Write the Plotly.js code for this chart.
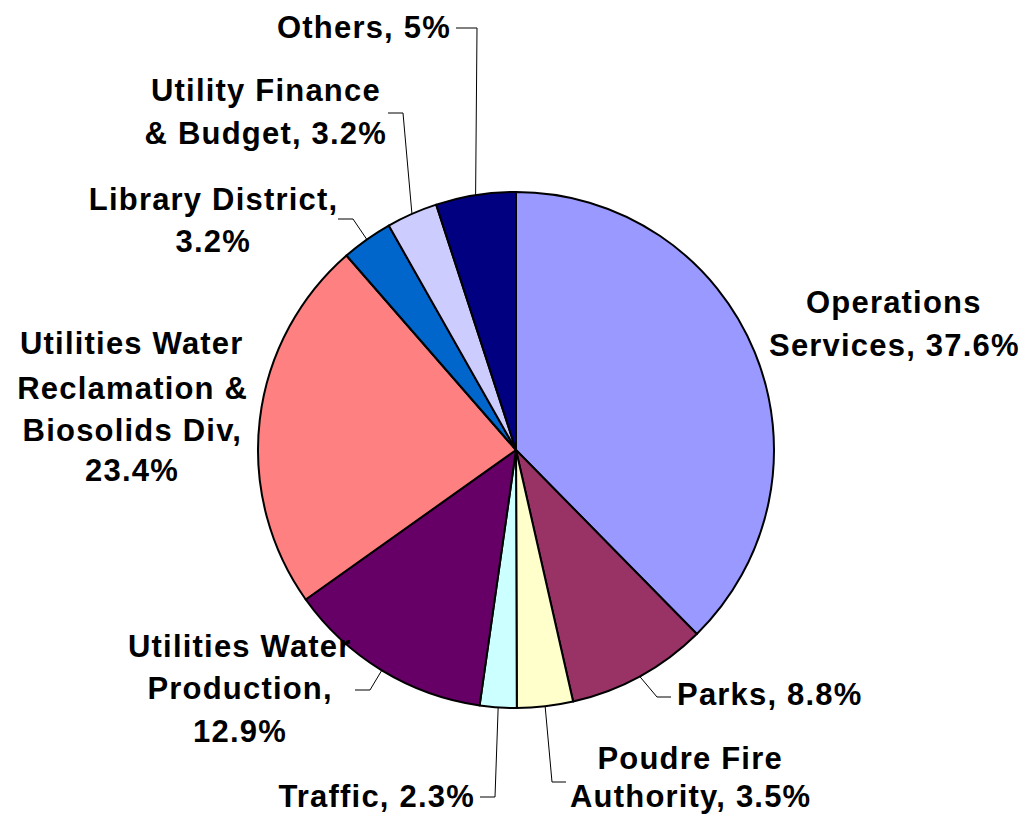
<!DOCTYPE html>
<html>
<head>
<meta charset="utf-8">
<script src="https://cdn.plot.ly/plotly-3.0.1.min.js"></script>
<style>
html,body{margin:0;padding:0;background:#fff;}
#chart{width:1024px;height:820px;}
</style>
</head>
<body>
<div id="chart"></div>
<script>
// ---- data ----
const categories = ['Operations Services', 'Parks', 'Poudre Fire Authority', 'Traffic',
  'Utilities Water Production', 'Utilities Water Reclamation & Biosolids Div',
  'Library District', 'Utility Finance & Budget', 'Others'];
const values = [37.6, 8.8, 3.5, 2.3, 12.9, 23.4, 3.2, 3.2, 5];
const colors = ['#9999FF', '#993366', '#FFFFCC', '#CCFFFF', '#660066', '#FF8080', '#0066CC', '#CCCCFF', '#000080'];
// label text lines ({v} = value with %)
const labelLines = [
  ['Operations', 'Services, {v}'],
  ['Parks, {v}'],
  ['Poudre Fire', 'Authority, {v}'],
  ['Traffic, {v}'],
  ['Utilities Water', 'Production,', '{v}'],
  ['Utilities Water', 'Reclamation &', 'Biosolids Div,', '{v}'],
  ['Library District,', '{v}'],
  ['Utility Finance', '& Budget, {v}'],
  ['Others, {v}']
];

// ---- layout config (pixels) ----
const W = 1024, H = 820;
const pie = {cx: 516, cy: 450, r: 258};
// label placement: x, align, line y positions; leader: start point + elbow dx
const labelPlace = [
  {x: 894, align: 'center', ys: [302, 346]},
  {x: 675, align: 'left', ys: [694], leader: {sx: 671, sy: 697, dx: -14}},
  {x: 690, align: 'center', ys: [758, 796], leader: {sx: 566, sy: 782, dx: -14}},
  {x: 477, align: 'right', ys: [796], leader: {sx: 480, sy: 797, dx: 15}},
  {x: 240, align: 'center', ys: [646, 688, 731], leader: {sx: 355, sy: 690, dx: 15}},
  {x: 132, align: 'center', ys: [344, 388, 430, 471]},
  {x: 213, align: 'center', ys: [199, 241], leader: {sx: 338, sy: 219, dx: 15}},
  {x: 266, align: 'center', ys: [91, 133], leader: {sx: 388, sy: 113, dx: 15}},
  {x: 453, align: 'right', ys: [27], leader: {sx: 456, sy: 28, dx: 21}}
];

const px = x => x / W;
const py = y => 1 - y / H;

const total = values.reduce((a, b) => a + b, 0);
const annotations = [];
const shapes = [];
let cum = 0;
values.forEach((v, i) => {
  const mid = (cum + v / 2) / total * 2 * Math.PI;
  cum += v;
  const ex = pie.cx + pie.r * Math.sin(mid);
  const ey = pie.cy - pie.r * Math.cos(mid);
  const lp = labelPlace[i];
  labelLines[i].forEach((t, k) => {
    annotations.push({
      xref: 'paper', yref: 'paper',
      x: px(lp.x), y: py(lp.ys[k]),
      xanchor: lp.align, yanchor: 'middle', align: lp.align,
      text: t.replace('{v}', v + '%'),
      showarrow: false,
      font: {family: 'Liberation Sans, Arial, sans-serif', size: 31, color: '#000', weight: 'bold'}
    });
  });
  if (lp.leader) {
    const L = lp.leader;
    shapes.push({
      type: 'path', xref: 'paper', yref: 'paper',
      path: 'M ' + px(L.sx) + ' ' + py(L.sy) + ' L ' + px(L.sx + L.dx) + ' ' + py(L.sy) +
            ' L ' + px(ex) + ' ' + py(ey),
      line: {color: '#000', width: 1}
    });
  }
});

const trace = {
  type: 'pie',
  labels: categories,
  values: values,
  sort: false,
  direction: 'clockwise',
  rotation: 0,
  textinfo: 'none',
  hoverinfo: 'label+percent',
  marker: {colors: colors, line: {color: '#000', width: 2}},
  domain: {x: [px(pie.cx - pie.r), px(pie.cx + pie.r)], y: [py(pie.cy + pie.r), py(pie.cy - pie.r)]},
  showlegend: false
};

const layout = {
  width: W, height: H,
  margin: {l: 0, r: 0, t: 0, b: 0},
  paper_bgcolor: '#fff',
  showlegend: false,
  annotations: annotations,
  shapes: shapes
};

Plotly.newPlot('chart', [trace], layout, {displayModeBar: false, staticPlot: true}).then(() => {
  document.querySelectorAll('.annotation-text').forEach(t => { t.style.letterSpacing = '1.2px'; });
});
</script>
</body>
</html>
